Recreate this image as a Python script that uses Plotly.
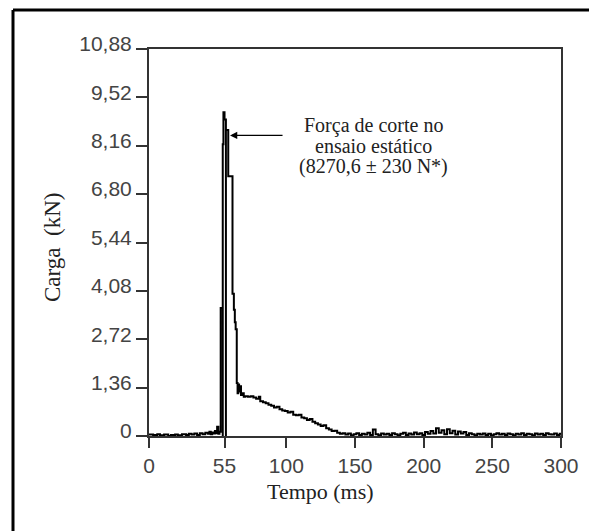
import plotly.graph_objects as go

# ---- data ----
time_ms = [
    0, 3, 6, 8, 11, 14, 16, 19, 21, 24, 27, 29, 31, 33, 35, 37, 39, 41, 43, 44, 45, 46, 47, 48, 49, 49.6, 50.5, 51.3,
    52.2, 53.7, 53.7, 54.2, 55.0, 56.0, 56.0, 57.7, 60.8, 61.8, 62.5, 63.1, 63.9,
    64.5, 65.0, 65.6, 66.2, 67.0, 68.0, 69.0, 70.0, 72, 74, 76, 78, 80, 81, 83, 85, 87, 89, 91, 93, 95, 97, 99,
    101, 103, 105, 107, 109, 111, 113, 115, 117, 119, 121, 123, 125, 127, 129, 131, 133, 135, 137, 139, 141,
    143, 145, 147, 149, 151, 153, 155, 157, 159, 161, 163, 165, 167, 169, 171, 173, 175, 177, 179, 181,
    183, 185, 187, 189, 191, 193, 195, 197, 199, 201, 203, 205, 207, 209, 211, 213, 215, 217, 219, 221,
    223, 225, 227, 229, 231, 233, 235, 237, 239, 241, 243, 245, 247, 249, 251, 253, 255, 257, 259, 261,
    263, 265, 267, 269, 271, 273, 275, 277, 279, 281, 283, 285, 287, 289, 291, 293, 295, 297, 299, 300,
]
load_kn = [
    0.04, 0.03, 0.05, 0.02, 0.04, 0.00, 0.03, 0.04, 0.02, 0.05, 0.03, 0.06, 0.04, 0.07, 0.03, 0.08, 0.05, 0.09, 0.06, 0.12, 0.05, 0.10, 0.07, 0.14, 0.08, 0.26, 0.06, 0.12,
    3.60, 0.00, 8.20, 9.10, 8.90, 0.00, 8.60, 7.30, 4.00, 3.55, 3.20, 3.00, 1.49,
    1.20, 1.45, 1.25, 1.40, 1.15, 1.20, 1.10, 1.12, 1.10, 1.12, 1.08, 1.05, 1.10, 0.98, 0.95, 0.92, 0.88, 0.85, 0.80, 0.82, 0.75, 0.72, 0.70,
    0.66, 0.68, 0.60, 0.58, 0.60, 0.52, 0.50, 0.45, 0.48, 0.40, 0.36, 0.32, 0.28, 0.30, 0.22, 0.18, 0.14, 0.15, 0.09, 0.06, 0.08,
    0.04, 0.07, 0.02, 0.05, 0.08, 0.03, 0.06, 0.04, 0.09, 0.03, 0.18, 0.05, 0.02, 0.07, 0.04, 0.06, 0.03, 0.08, 0.05, 0.02,
    0.06, 0.09, 0.03, 0.07, 0.04, 0.10, 0.05, 0.08, 0.03, 0.11, 0.06, 0.14, 0.07, 0.22, 0.09, 0.16, 0.05, 0.19, 0.08, 0.15,
    0.04, 0.13, 0.07, 0.11, 0.03, 0.08, 0.05, 0.02, 0.06, 0.04, 0.07, 0.03, 0.06, 0.02, 0.05, 0.08, 0.04, 0.06, 0.03, 0.07,
    0.05, 0.02, 0.06, 0.04, 0.08, 0.03, 0.06, 0.05, 0.02, 0.07, 0.04, 0.06, 0.03, 0.08, 0.05, 0.04, 0.07, 0.03, 0.06, 0.08,
]

y_tick_vals = [0, 1.36, 2.72, 4.08, 5.44, 6.80, 8.16, 9.52, 10.88]
y_tick_text = ["0", "1,36", "2,72", "4,08", "5,44", "6,80", "8,16", "9,52", "10,88"]
x_tick_vals = [0, 55, 100, 150, 200, 250, 300]
x_tick_text = ["0", "55", "100", "150", "200", "250", "300"]

annot_lines = ["Força de corte no", "ensaio estático", "(8270,6 \u00b1 230 N*)"]

# ---- layout geometry (pixels, in the page; figure sits 8px in from the page corner) ----
OFF = 8
W, H = 597 - OFF, 531 - OFF
L, T = 149 - OFF, 49 - OFF
R = W - (561 - OFF)
B = H - (436 - OFF)
pw, ph = W - L - R, H - T - B


def px2paper_x(px):
    return (px - OFF - L) / pw


def px2paper_y(py):
    return (H - B - (py - OFF)) / ph


SERIF = "Liberation Serif"
SANS = "Liberation Sans"

fig = go.Figure()
fig.add_trace(go.Scatter(
    x=time_ms, y=load_kn, mode="lines",
    line=dict(color="black", width=2, shape="hv"),
    showlegend=False, hoverinfo="skip",
))

fig.update_layout(
    width=W, height=H,
    margin=dict(l=L, r=R, t=T, b=B, pad=0),
    paper_bgcolor="white", plot_bgcolor="white",
    xaxis=dict(
        range=[0, 300], tickvals=x_tick_vals, ticktext=x_tick_text,
        showgrid=False, zeroline=False,
        showline=True, mirror=True, linecolor="#333", linewidth=2,
        ticks="outside", ticklen=10, tickwidth=2, tickcolor="#333",
        tickfont=dict(family=SANS, size=21, color="#444"),
    ),
    yaxis=dict(
        range=[0, 10.88], tickvals=y_tick_vals, ticktext=y_tick_text,
        showgrid=False, zeroline=False,
        showline=True, mirror=True, linecolor="#333", linewidth=2,
        ticks="outside", ticklen=11, tickwidth=2, tickcolor="#333",
        tickfont=dict(family=SANS, size=21, color="#444"),
        ticklabelshift=-5,
    ),
)

# outer frame (left and top edges visible)
fig.add_shape(type="line", xref="paper", yref="paper",
              x0=px2paper_x(13), x1=px2paper_x(13), y0=px2paper_y(10), y1=px2paper_y(540),
              line=dict(color="black", width=3))
fig.add_shape(type="line", xref="paper", yref="paper",
              x0=px2paper_x(13), x1=px2paper_x(610), y0=px2paper_y(10), y1=px2paper_y(10),
              line=dict(color="black", width=3))

# axis titles
fig.add_annotation(text="Tempo (ms)", xref="paper", yref="paper",
                   x=px2paper_x(320), y=px2paper_y(491), showarrow=False,
                   xanchor="center", yanchor="middle",
                   font=dict(family=SERIF, size=22, color="#222"))
fig.add_annotation(text="Carga  (kN)", xref="paper", yref="paper",
                   x=px2paper_x(52), y=px2paper_y(248), showarrow=False, textangle=-90,
                   xanchor="center", yanchor="middle",
                   font=dict(family=SERIF, size=23, color="#222"))

# annotation text
for line_text, py in zip(annot_lines, [126, 146, 166]):
    fig.add_annotation(text=line_text, xref="paper", yref="paper",
                       x=px2paper_x(373), y=px2paper_y(py), showarrow=False,
                       xanchor="center", yanchor="middle",
                       font=dict(family=SERIF, size=20, color="#222"))

# arrow
fig.add_annotation(text="", x=59.0, y=8.45, xref="x", yref="y",
                   showarrow=True, ax=54, ay=0, arrowhead=2, arrowsize=1.2,
                   arrowwidth=1.2, arrowcolor="black")

fig.write_html("out.html")
